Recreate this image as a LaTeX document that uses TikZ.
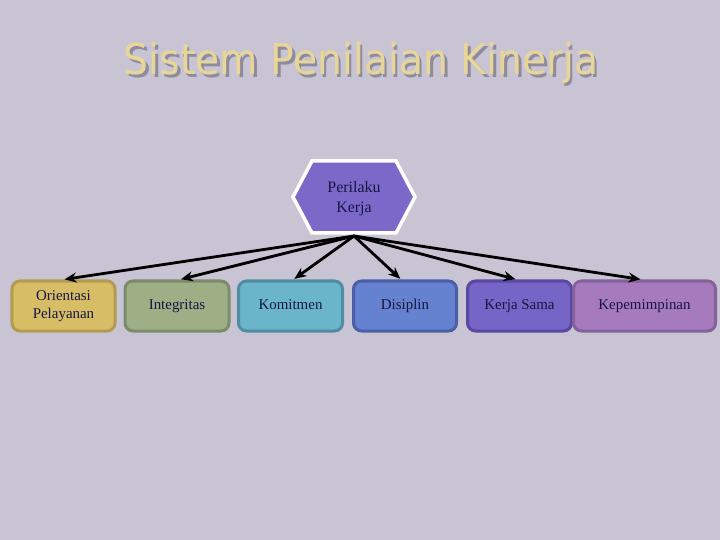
\documentclass[tikz,border=0pt]{standalone}
\usepackage{fontspec}
\setmainfont{Liberation Serif}
\newfontfamily\judulfont{DejaVu Sans}
\usetikzlibrary{arrows.meta}

\definecolor{latar}{HTML}{C9C4D3}
\definecolor{teks}{HTML}{161642}
\definecolor{juduluning}{HTML}{E8D698}
\definecolor{bayangan}{HTML}{8E8B9C}
\definecolor{heksa}{HTML}{7B68C9}
\definecolor{kuning}{HTML}{D6BD66}\definecolor{kuningtepi}{HTML}{B39B52}
\definecolor{hijau}{HTML}{9EAF86}\definecolor{hijautepi}{HTML}{7B8B6C}
\definecolor{toska}{HTML}{6AB5CA}\definecolor{toskatepi}{HTML}{4F8DA2}
\definecolor{biru}{HTML}{6482CF}\definecolor{birutepi}{HTML}{4A5FA5}
\definecolor{ungu}{HTML}{7465C6}\definecolor{ungutepi}{HTML}{5848A2}
\definecolor{lila}{HTML}{A67BBE}\definecolor{lilatepi}{HTML}{84609C}

\newcommand{\judulteks}{\scalebox{0.93}[1]{Sistem Penilaian Kinerja}}

\tikzset{
	kotak/.style={draw, line width=3bp, rounded corners=8bp, minimum height=50bp,
		inner sep=0pt, align=center, text=teks, font=\fontsize{15}{18}\selectfont},
	panah/.style={line width=2.8bp, -{Stealth[length=12bp,width=10bp]}, shorten >=1bp},
	judul/.style={anchor=base, font=\judulfont\fontsize{42.5}{42.5}\selectfont},
}

\begin{document}
\begin{tikzpicture}[x=1bp, y=-1bp]
		%%%%% START %%%%%
		
		\fill[latar] (0, 0) rectangle (720, 540);
		\useasboundingbox (0, 0) rectangle (720, 540);
		
		% judul dengan bayangan
		\node[judul] (judul) at (361, 75) {\rlap{\kern2.5bp\raisebox{-2.5bp}{\color{bayangan}\judulteks}}\color{juduluning}\judulteks};
		
		% heksagon
		\draw[line width=3.5bp, draw=white, fill=heksa] (293, 197) -- (312, 161) -- (396, 161) -- (415, 197) -- (396, 233) -- (312, 233) -- cycle;
		\node[text=teks, align=center, font=\fontsize{16}{20}\selectfont] (perilaku) at (354, 199) {Perilaku\\Kerja};
		\coordinate (pusat) at (354, 236);
		
		% kotak
		\node[kotak, fill=kuning, draw=kuningtepi, minimum width=103bp] (orientasi) at (63.5, 306) {Orientasi\\Pelayanan};
		\node[kotak, fill=hijau, draw=hijautepi, minimum width=104bp] (integritas) at (177, 306) {\strut Integritas};
		\node[kotak, fill=toska, draw=toskatepi, minimum width=104bp] (komitmen) at (290.5, 306) {\strut Komitmen};
		\node[kotak, fill=biru, draw=birutepi, minimum width=103bp] (disiplin) at (405, 306) {\strut Disiplin};
		\node[kotak, fill=ungu, draw=ungutepi, minimum width=104bp] (kerjasama) at (519.5, 306) {\strut Kerja Sama};
		\node[kotak, fill=lila, draw=lilatepi, minimum width=142bp] (kepemimpinan) at (644.5, 306) {\strut Kepemimpinan};
		
		% panah
		\draw[panah] (pusat) -- (orientasi.north);
		\draw[panah] (pusat) -- ([xshift=3bp]integritas.north);
		\draw[panah] (pusat) -- ([xshift=3bp]komitmen.north);
		\draw[panah] (pusat) -- ([xshift=-4bp]disiplin.north);
		\draw[panah] (pusat) -- ([xshift=-3bp]kerjasama.north);
		\draw[panah] (pusat) -- ([xshift=-3bp]kepemimpinan.north);
		
		%%%%% END %%%%%
\end{tikzpicture}
\end{document}
